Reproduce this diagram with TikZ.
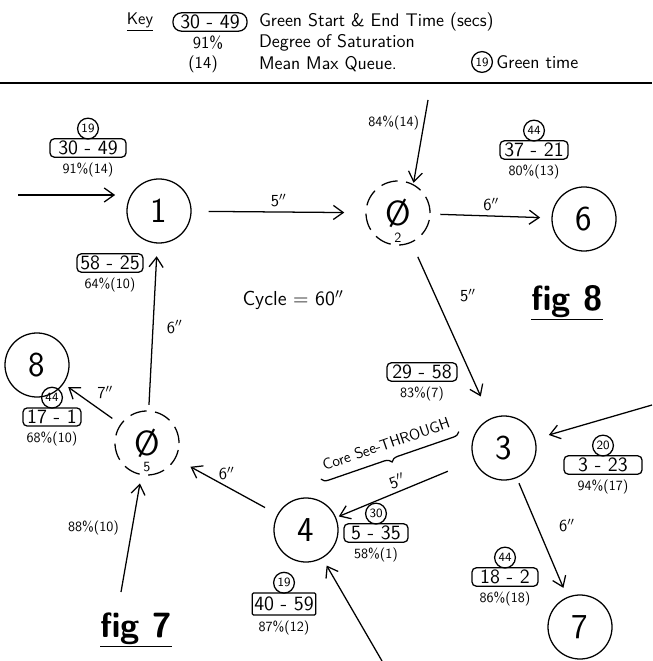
\documentclass[tikz,border=0pt]{standalone}
\renewcommand{\familydefault}{\sfdefault}
\usepackage{tikz}
\usetikzlibrary{shapes,arrows.meta,positioning,calc,decorations.pathreplacing}

\begin{document}
\begin{tikzpicture}[
    x=0.025cm, y=-0.025cm,
    line width=0.9pt,
    junction/.style={circle, draw, minimum size=1.6cm, inner sep=0pt, font=\Huge},
    dashjunction/.style={junction, dash pattern=on 12pt off 6pt, label={[font=\normalsize, label distance=-13pt]below:#1}},
    timebox/.style={draw, rounded corners=3pt, font=\Large, inner sep=1.5pt, minimum width=1.6cm, minimum height=0.45cm},
    greentime/.style={circle, draw, inner sep=0pt, minimum size=0.52cm, font=\small},
    satn/.style={font=\normalsize, inner sep=1pt},
    keytext/.style={font=\fontsize{13}{15}\selectfont, anchor=west, inner sep=1pt},
    lbl/.style={font=\large},
    figlbl/.style={font=\Huge\bfseries},
    arrow/.style={-{Straight Barb[length=7pt,width=10pt]}}
]
\useasboundingbox (0,0) rectangle (652,661);

\node[font=\large] (key) at (140,22) {\underline{Key}};
\node[timebox, rounded corners=6pt, minimum width=1.85cm] (kbox) at (210,22) {30 - 49};
\node[keytext] (kgreen) at (257,22) {Green Start \& End Time (secs)};
\node[font=\large] (kpct) at (208,43) {91\%};
\node[keytext] (kdos) at (257,43) {Degree of Saturation};
\node[font=\large] (kq) at (203,64) {(14)};
\node[keytext] (kmmq) at (257,64) {Mean Max Queue.};
\node[greentime] (kg) at (482,62) {19};
\node[keytext, right=1pt of kg] (kgt) {Green time};
\draw (0,83) -- (652,83);

\node[junction] (n1) at (159,211) {1};
\node[junction, dashjunction=2] (n2) at (398,213) {\O};
\node[junction] (n6) at (584,219) {6};
\node[junction] (n3) at (504,448) {3};
\node[junction] (n4) at (306,530) {4};
\node[junction, dashjunction=5] (n5) at (147,443) {\O};
\node[junction] (n8) at (37,365) {8};
\node[junction] (n7) at (580,627) {7};

\node[timebox, minimum width=1.9cm] (t1) at (88,148) {30 - 49};
\node[greentime, above=-1pt of t1] (g1) {19};
\node[satn, below=2pt of t1] (s1) {91\%(14)};

\node[timebox, minimum width=1.7cm] (t6) at (534,150) {37 - 21};
\node[greentime, above=-1pt of t6] (g6) {44};
\node[satn, below=2pt of t6] (s6) {80\%(13)};

\node[timebox, minimum width=1.75cm] (t3a) at (422,372) {29 - 58};
\node[satn, below=2pt of t3a] (s3a) {83\%(7)};

\node[timebox, minimum width=1.95cm] (t3b) at (603,465) {3 - 23};
\node[greentime, above=-1pt of t3b] (g3) {20};
\node[satn, below=2pt of t3b] (s3b) {94\%(17)};

\node[timebox, minimum width=1.65cm] (t5) at (110,263) {58 - 25};
\node[satn, below=2pt of t5] (s5) {64\%(10)};

\node[timebox, minimum width=1.45cm] (t8) at (52,417) {17 - 1};
\node[greentime, above=-1pt of t8] (g8) {44};
\node[satn, below=2pt of t8] (s8) {68\%(10)};

\node[timebox, minimum width=1.6cm] (t4a) at (376,533) {5 - 35};
\node[greentime, above=-1pt of t4a] (g4a) {30};
\node[satn, below=2pt of t4a] (s4a) {58\%(1)};

\node[timebox, rounded corners=1pt, minimum width=1.55cm, minimum height=0.55cm] (t4b) at (284,604) {40 - 59};
\node[greentime, above=-1pt of t4b] (g4b) {19};
\node[satn, below=2pt of t4b] (s4b) {87\%(12)};

\node[timebox, minimum width=1.65cm] (t7) at (505,577) {18 - 2};
\node[greentime, above=-1pt of t7] (g7) {44};
\node[satn, below=2pt of t7] (s7) {86\%(18)};

\coordinate (in1) at (18,195);
\coordinate (in2) at (428,100);
\coordinate (in3) at (652,405);
\coordinate (in4) at (382,661);
\coordinate (in5) at (121,592);

\draw[arrow, shorten >=8pt] (in1) -- (in1 -| n1.west);
\draw[arrow, shorten <=12pt, shorten >=15pt] (n1) -- node[lbl, above] {5$''$} (n2);
\draw[arrow, shorten >=1pt] (in2) -- node[satn, pos=0.27, left=2pt] {84\%(14)} (n2.62);
\draw[arrow, shorten <=7pt, shorten >=8pt] (n2) -- node[lbl, above] {6$''$} (n6);
\draw[arrow, shorten <=11pt, shorten >=17pt] (n2) -- node[lbl, pos=0.3, right=14pt] {5$''$} (n3);
\draw[arrow, shorten >=10pt] (in3) -- (n3);
\draw[arrow, shorten <=20pt, shorten >=2pt] (n3) -- (n4);
\draw[arrow, shorten <=4pt, shorten >=7pt] (n3) -- node[lbl, pos=0.4, right=12pt] {6$''$} (n7);
\draw[arrow, shorten >=6pt] (in4) -- (n4);
\draw[arrow, shorten <=10pt, shorten >=12pt] (n4) -- node[lbl, above=1pt] {6$''$} (n5);
\draw[arrow, shorten >=6pt] (in5) -- node[satn, pos=0.55, left=8pt] {88\%(10)} (n5);
\draw[arrow, shorten <=4pt, shorten >=9pt] (n5) -- node[lbl, right=6pt] {6$''$} (n1);
\draw[arrow, shorten <=7pt, shorten >=4pt] (n5) -- node[lbl, above right] {7$''$} (n8);

\node[font=\fontsize{11}{13}\selectfont, rotate=19, inner sep=4pt] (cst) at (386,444) {Core See-THROUGH};
\draw[decorate, decoration={brace, mirror, amplitude=5pt}] (cst.south west) -- (cst.south east);
\node[lbl, rotate=19, inner sep=1pt] (cstlen) at (397,481) {5$''$};

\node[font=\Large] (cycle) at (293,300) {Cycle = 60$''$};
\node[figlbl] (fig8) at (567,303) {\underline{fig 8}};
\node[figlbl] (fig7) at (136,630) {\underline{fig 7}};
\end{tikzpicture}
\end{document}
